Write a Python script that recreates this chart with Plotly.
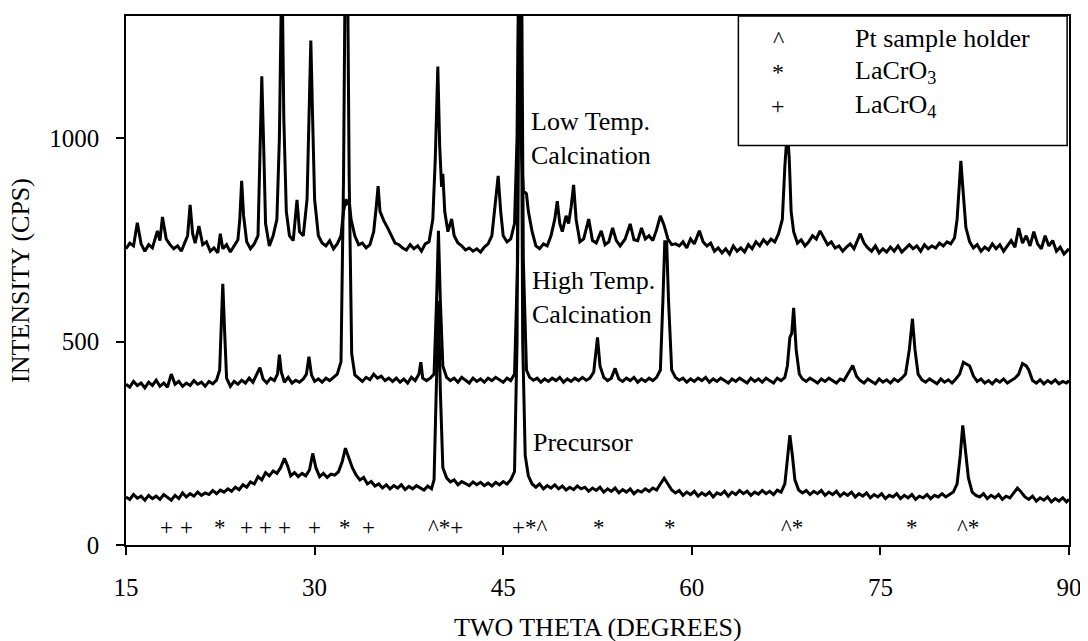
import plotly.graph_objects as go

# ---- XRD patterns (two theta in degrees, intensity in CPS) ----
low_x = [15.0, 15.3, 15.6, 15.9, 16.2, 16.5, 16.8, 17.1, 17.5, 17.7, 17.9, 18.2, 18.5, 18.8, 19.1, 19.4, 19.7, 19.9,
         20.1, 20.3, 20.5, 20.8, 21.1, 21.4, 21.7, 22.0, 22.3, 22.5, 22.7, 23.0, 23.3, 23.6, 23.9, 24.05, 24.2, 24.35,
         24.6, 24.9, 25.2, 25.5, 25.7, 25.8, 25.95, 26.1, 26.4, 26.7, 27.0, 27.2, 27.4, 27.55, 27.75, 28.0, 28.3, 28.6,
         28.8, 29.1, 29.4, 29.6, 29.7, 29.85, 30.0, 30.3, 30.6, 30.9, 31.2, 31.5, 31.8, 32.1, 32.3, 32.5, 32.6, 32.75,
         32.9, 33.2, 33.5, 33.8, 34.1, 34.4, 34.7, 34.9, 35.05, 35.2, 35.5, 35.8, 36.1, 36.4, 36.7, 37.0, 37.3, 37.6,
         37.9, 38.2, 38.5, 38.8, 39.1, 39.4, 39.6, 39.8, 39.95, 40.1, 40.2, 40.35, 40.6, 40.9, 41.1, 41.4, 41.7, 42.0,
         42.3, 42.6, 42.9, 43.2, 43.5, 43.8, 44.1, 44.4, 44.6, 44.8, 45.0, 45.3, 45.6, 45.9, 46.1, 46.25, 46.4, 46.6,
         46.85, 47.0, 47.3, 47.6, 47.9, 48.2, 48.5, 48.8, 49.1, 49.3, 49.5, 49.7, 50.0, 50.2, 50.4, 50.6, 50.8, 51.1,
         51.4, 51.8, 52.1, 52.4, 52.8, 53.1, 53.4, 53.7, 54.0, 54.3, 54.7, 55.1, 55.4, 55.7, 56.0, 56.3, 56.6, 56.9,
         57.2, 57.5, 57.8, 58.1, 58.4, 58.7, 59.0, 59.3, 59.6, 59.9, 60.2, 60.6, 60.9, 61.2, 61.5, 61.8, 62.1, 62.4,
         62.7, 63.0, 63.3, 63.6, 63.9, 64.2, 64.5, 64.8, 65.1, 65.4, 65.7, 66.0, 66.3, 66.6, 66.9, 67.2, 67.4, 67.6,
         67.75, 67.9, 68.1, 68.4, 68.7, 69.0, 69.3, 69.6, 69.9, 70.2, 70.5, 70.8, 71.1, 71.4, 71.7, 72.0, 72.3, 72.6,
         72.9, 73.2, 73.4, 73.7, 74.0, 74.3, 74.6, 74.9, 75.2, 75.5, 75.8, 76.1, 76.4, 76.7, 77.0, 77.3, 77.6, 77.9,
         78.2, 78.5, 78.8, 79.1, 79.4, 79.7, 80.0, 80.3, 80.6, 80.9, 81.1, 81.3, 81.4, 81.55, 81.8, 82.1, 82.4, 82.7,
         83.0, 83.3, 83.6, 83.9, 84.2, 84.5, 84.8, 85.1, 85.4, 85.7, 86.0, 86.3, 86.6, 86.9, 87.2, 87.5, 87.8, 88.1,
         88.4, 88.7, 89.0, 89.3, 89.6, 90.0]
low_y = [728, 742, 735, 792, 740, 722, 738, 730, 772, 748, 806, 752, 738, 728, 735, 722, 745, 760,
         836, 765, 742, 784, 738, 745, 722, 730, 718, 765, 728, 738, 720, 735, 750, 800, 895, 810,
         745, 728, 740, 760, 990, 1152, 980, 790, 735, 760, 800, 1000, 1450, 1050, 820, 760, 748, 848,
         770, 760, 850, 1100, 1240, 1040, 850, 760, 742, 735, 748, 728, 740, 760, 820, 850, 840, 845,
         800, 760, 738, 742, 730, 738, 770, 830, 882, 820, 797, 780, 760, 742, 738, 730, 725, 738,
         728, 735, 722, 740, 745, 800, 950, 1176, 980, 880, 912, 820, 770, 801, 760, 742, 735, 725,
         730, 722, 728, 720, 732, 740, 760, 840, 907, 820, 760, 745, 752, 790, 1000, 1500, 1000, 870,
         863, 820, 770, 735, 728, 740, 735, 760, 800, 845, 790, 770, 809, 790, 830, 885, 800, 745,
         752, 801, 748, 742, 772, 738, 745, 779, 748, 735, 752, 789, 750, 748, 779, 752, 760, 748,
         775, 809, 785, 752, 738, 740, 735, 745, 730, 752, 740, 772, 745, 735, 742, 722, 730, 718,
         728, 715, 735, 722, 730, 720, 738, 728, 745, 735, 750, 740, 752, 745, 765, 800, 930, 1020,
         950, 820, 770, 742, 750, 735, 745, 760, 752, 772, 755, 738, 745, 730, 735, 722, 732, 740,
         728, 748, 765, 742, 730, 722, 735, 718, 728, 720, 732, 722, 735, 720, 730, 738, 728, 735,
         722, 738, 728, 735, 730, 742, 735, 745, 740, 755, 800, 900, 944, 880, 780, 745, 730, 738,
         722, 732, 725, 740, 728, 738, 722, 735, 748, 732, 779, 742, 760, 735, 770, 740, 728, 760,
         735, 748, 722, 732, 715, 728]

high_x = [15.0, 15.3, 15.6, 15.9, 16.2, 16.5, 16.8, 17.1, 17.4, 17.7, 18.0, 18.3, 18.6, 18.9, 19.2, 19.5, 19.8, 20.1,
          20.4, 20.7, 21.0, 21.3, 21.6, 21.9, 22.2, 22.45, 22.6, 22.7, 22.85, 23.0, 23.3, 23.6, 23.9, 24.2, 24.5, 24.8,
          25.1, 25.4, 25.65, 25.9, 26.2, 26.5, 26.8, 27.05, 27.2, 27.35, 27.6, 27.9, 28.2, 28.5, 28.8, 29.1, 29.35,
          29.55, 29.75, 30.0, 30.3, 30.6, 30.9, 31.2, 31.5, 31.8, 32.1, 32.3, 32.45, 32.6, 32.75, 32.95, 33.2, 33.5,
          33.8, 34.1, 34.4, 34.7, 35.0, 35.3, 35.6, 35.9, 36.2, 36.5, 36.8, 37.1, 37.4, 37.7, 38.0, 38.3, 38.45, 38.6,
          38.9, 39.2, 39.5, 39.7, 39.85, 40.0, 40.2, 40.5, 40.8, 41.1, 41.4, 41.7, 42.0, 42.3, 42.6, 42.9, 43.2, 43.5,
          43.8, 44.1, 44.4, 44.7, 45.0, 45.3, 45.6, 45.9, 46.15, 46.3, 46.45, 46.6, 46.85, 47.1, 47.4, 47.7, 48.0,
          48.3, 48.6, 48.9, 49.2, 49.5, 49.8, 50.1, 50.4, 50.7, 51.0, 51.3, 51.6, 51.9, 52.2, 52.5, 52.7, 53.0, 53.3,
          53.6, 53.9, 54.2, 54.5, 54.8, 55.1, 55.4, 55.7, 56.0, 56.3, 56.6, 56.9, 57.2, 57.5, 57.7, 57.85, 58.0,
          58.15, 58.4, 58.7, 59.0, 59.3, 59.6, 59.9, 60.2, 60.5, 60.8, 61.1, 61.4, 61.7, 62.0, 62.3, 62.6, 62.9,
          63.2, 63.5, 63.8, 64.1, 64.4, 64.7, 65.0, 65.3, 65.6, 65.9, 66.2, 66.5, 66.8, 67.1, 67.4, 67.6, 67.8,
          67.95, 68.1, 68.3, 68.55, 68.8, 69.1, 69.4, 69.7, 70.0, 70.3, 70.6, 70.9, 71.2, 71.5, 71.8, 72.1, 72.5,
          72.8, 73.1, 73.4, 73.7, 74.0, 74.3, 74.6, 74.9, 75.2, 75.5, 75.8, 76.1, 76.4, 76.7, 77.0, 77.3, 77.55,
          77.75, 78.0, 78.3, 78.6, 78.9, 79.2, 79.5, 79.8, 80.1, 80.4, 80.7, 81.0, 81.3, 81.6, 81.85, 82.1, 82.4,
          82.7, 83.0, 83.3, 83.6, 83.9, 84.2, 84.5, 84.8, 85.1, 85.4, 85.7, 86.0, 86.3, 86.6, 86.8, 87.1, 87.4,
          87.7, 88.0, 88.3, 88.6, 88.9, 89.2, 89.5, 89.8, 90.0]
high_y = [395, 388, 402, 392, 398, 386, 400, 392, 405, 390, 398, 388, 420, 395, 402, 390, 398, 392,
          404, 395, 400, 390, 402, 396, 405, 430, 560, 642, 520, 410, 390, 402, 395, 405, 398, 410,
          400, 420, 436, 408, 398, 410, 404, 420, 468, 425, 400, 412, 398, 405, 400, 408, 420,
          463, 418, 402, 408, 400, 410, 404, 412, 420, 450, 900, 1500, 1500, 900, 470, 418, 410,
          402, 412, 406, 420, 410, 415, 404, 410, 402, 410, 400, 408, 398, 412, 404, 420, 449, 410,
          404, 410, 420, 600, 772, 600, 440, 412, 404, 410, 400, 412, 405, 398, 410, 402, 408, 400,
          410, 404, 412, 405, 400, 410, 404, 420, 700, 1500, 1500, 700, 430, 412, 405, 410, 400,
          408, 402, 410, 404, 412, 400, 408, 402, 410, 404, 412, 405, 410, 425, 510, 440, 412, 404,
          410, 434, 408, 402, 410, 404, 412, 400, 408, 402, 410, 404, 412, 430, 600, 745, 745,
          600, 430, 412, 405, 410, 400, 408, 402, 410, 404, 412, 400, 408, 402, 410, 404, 398,
          408, 402, 410, 404, 398, 410, 402, 408, 400, 410, 404, 398, 410, 404, 412, 440, 510,
          520, 583, 480, 420, 408, 402, 410, 404, 398, 408, 402, 410, 404, 398, 408, 404, 425,
          441, 415, 404, 398, 408, 402, 396, 408, 400, 406, 398, 408, 402, 410, 420, 480, 556,
          480, 420, 406, 400, 408, 402, 396, 408, 400, 406, 398, 408, 420, 449, 445, 440, 415,
          402, 408, 398, 404, 396, 406, 400, 408, 398, 404, 410, 420, 446, 440, 430, 404, 398,
          406, 396, 404, 398, 406, 396, 402, 398, 404]

pre_x = [15.0, 15.3, 15.6, 15.9, 16.2, 16.5, 16.8, 17.1, 17.4, 17.7, 18.0, 18.3, 18.6, 18.9, 19.2, 19.5, 19.8, 20.1,
         20.4, 20.7, 21.0, 21.3, 21.6, 21.9, 22.2, 22.5, 22.8, 23.1, 23.4, 23.7, 24.0, 24.3, 24.6, 24.9, 25.2, 25.5,
         25.8, 26.1, 26.4, 26.7, 27.0, 27.3, 27.6, 27.85, 28.1, 28.4, 28.7, 29.0, 29.3, 29.6, 29.85, 30.1, 30.4,
         30.7, 31.0, 31.3, 31.6, 31.9, 32.2, 32.45, 32.7, 33.0, 33.3, 33.6, 33.9, 34.2, 34.5, 34.8, 35.1, 35.4,
         35.7, 36.0, 36.3, 36.6, 36.9, 37.2, 37.5, 37.8, 38.1, 38.4, 38.7, 39.0, 39.3, 39.5, 39.7, 39.85, 40.0,
         40.2, 40.5, 40.8, 41.1, 41.4, 41.7, 42.0, 42.3, 42.6, 42.9, 43.2, 43.5, 43.8, 44.1, 44.4, 44.7, 45.0,
         45.3, 45.6, 45.9, 46.1, 46.25, 46.4, 46.55, 46.75, 47.0, 47.3, 47.6, 47.9, 48.2, 48.5, 48.8, 49.1, 49.4,
         49.7, 50.0, 50.3, 50.6, 50.9, 51.2, 51.5, 51.8, 52.1, 52.4, 52.7, 53.0, 53.3, 53.6, 53.9, 54.2, 54.5,
         54.8, 55.1, 55.4, 55.7, 56.0, 56.3, 56.6, 56.9, 57.2, 57.5, 57.8, 58.1, 58.4, 58.7, 59.0, 59.3, 59.6,
         59.9, 60.2, 60.5, 60.8, 61.1, 61.4, 61.7, 62.0, 62.3, 62.6, 62.9, 63.2, 63.5, 63.8, 64.1, 64.4, 64.7,
         65.0, 65.3, 65.6, 65.9, 66.2, 66.5, 66.8, 67.1, 67.4, 67.6, 67.8, 68.0, 68.2, 68.5, 68.8, 69.1, 69.4,
         69.7, 70.0, 70.3, 70.6, 70.9, 71.2, 71.5, 71.8, 72.1, 72.4, 72.7, 73.0, 73.3, 73.6, 73.9, 74.2, 74.5,
         74.8, 75.1, 75.4, 75.7, 76.0, 76.3, 76.6, 76.9, 77.2, 77.5, 77.8, 78.1, 78.4, 78.7, 79.0, 79.3, 79.6,
         79.9, 80.2, 80.5, 80.8, 81.1, 81.35, 81.55, 81.75, 82.0, 82.3, 82.6, 82.9, 83.2, 83.5, 83.8, 84.1, 84.4,
         84.7, 85.0, 85.3, 85.6, 85.9, 86.2, 86.5, 86.8, 87.1, 87.4, 87.7, 88.0, 88.3, 88.6, 88.9, 89.2, 89.5,
         89.8, 90.0]
pre_y = [118, 112, 124, 115, 120, 110, 122, 114, 120, 112, 124, 116, 110, 122, 114, 128, 118, 126,
         120, 130, 122, 128, 124, 134, 126, 135, 130, 138, 132, 142, 136, 148, 142, 155, 150, 168,
         160, 178, 170, 182, 176, 190, 213, 195, 170, 178, 168, 176, 170, 185, 225, 190, 168,
         176, 166, 174, 172, 180, 205, 238, 215, 190, 172, 160, 166, 150, 156, 145, 150, 140,
         148, 138, 146, 140, 148, 136, 144, 138, 146, 140, 135, 145, 138, 160, 400, 600, 380,
         190, 165, 155, 160, 148, 156, 150, 146, 155, 148, 154, 146, 152, 145, 154, 148, 156,
         150, 160, 180, 500, 1500, 1500, 500, 220, 170, 150, 142, 150, 138, 146, 140, 148, 138,
         145, 135, 142, 136, 145, 138, 142, 132, 140, 134, 142, 130, 138, 132, 140, 128, 136,
         130, 138, 126, 134, 130, 138, 132, 140, 135, 150, 164, 150, 135, 128, 134, 122, 130,
         124, 132, 120, 128, 122, 130, 118, 128, 124, 132, 120, 130, 124, 134, 126, 132, 122,
         130, 125, 134, 126, 132, 124, 135, 130, 150, 210, 270, 220, 160, 135, 128, 134, 124,
         132, 126, 134, 122, 130, 124, 132, 120, 128, 122, 130, 118, 126, 120, 128, 116, 124,
         118, 126, 114, 122, 118, 126, 114, 122, 116, 124, 112, 120, 116, 124, 114, 122, 118,
         126, 118, 124, 130, 150, 220, 294, 230, 165, 130, 122, 118, 126, 114, 122, 116, 124,
         112, 120, 116, 128, 140, 130, 118, 112, 120, 108, 116, 110, 118, 106, 114, 108, 116,
         106, 112]

# peak identification symbols along the bottom
sym_x = [18.2, 19.8, 22.5, 24.6, 26.1, 27.6, 30.0, 32.4, 34.3, 40.4, 47.1, 52.6, 58.3, 68.0, 77.5, 82.0]
sym_text = ["+", "+", "*", "+", "+", "+", "+", "*", "+", "^*+", "+*^", "*", "*", "^*", "*", "^*"]

x_ticks = [15, 30, 45, 60, 75, 90]
y_ticks = [0, 500, 1000]

FONT = "Liberation Serif, Times New Roman, serif"

fig = go.Figure()
for xs, ys in [(low_x, low_y), (high_x, high_y), (pre_x, pre_y)]:
    fig.add_trace(go.Scatter(x=xs, y=ys, mode="lines",
                             line=dict(color="black", width=3), showlegend=False))

for sx, st in zip(sym_x, sym_text):
    fig.add_annotation(x=sx, y=42, text=st, showarrow=False, xanchor="center",
                       yanchor="middle", font=dict(size=23))

# trace labels
fig.add_annotation(x=47.07, y=1000, text="Low Temp.<br>Calcination", xanchor="left",
                   align="left", showarrow=False, font=dict(size=26))
fig.add_annotation(x=47.15, y=608, text="High Temp.<br>Calcination", xanchor="left",
                   align="left", showarrow=False, font=dict(size=26))
fig.add_annotation(x=47.2, y=252, text="Precursor", xanchor="left", showarrow=False,
                   font=dict(size=26))

# legend box (drawn by hand like the original)
fig.add_shape(type="rect", xref="paper", yref="paper", x0=0.6494, x1=0.998, y0=0.7552, y1=1.0,
              line=dict(color="black", width=1.5), fillcolor="white", layer="above")
leg_sym = ["^", "*", "+"]
leg_lab = ["Pt sample holder", "LaCrO<sub>3</sub>", "LaCrO<sub>4</sub>"]
leg_y = [0.9567, 0.8945, 0.8305]
for s, lab, yy in zip(leg_sym, leg_lab, leg_y):
    fig.add_annotation(xref="paper", yref="paper", x=0.6917, y=yy, text=s, showarrow=False,
                       xanchor="center", yanchor="middle", font=dict(size=24))
    fig.add_annotation(xref="paper", yref="paper", x=0.771, y=yy, text=lab, showarrow=False,
                       xanchor="left", yanchor="middle", font=dict(size=26))

# axis titles
fig.add_annotation(xref="paper", yref="paper", x=0.5, y=-0.156, text="TWO THETA (DEGREES)",
                   showarrow=False, xanchor="center", yanchor="middle", font=dict(size=26))
fig.add_annotation(xref="paper", yref="paper", x=-0.112, y=0.5, text="INTENSITY (CPS)",
                   textangle=-90, showarrow=False, xanchor="center", yanchor="middle",
                   font=dict(size=26))

# the page body has an 8px margin, so the figure is a little smaller and shifted
fig.update_layout(
    width=1080, height=633,
    margin=dict(l=118, r=15, t=6, b=96),
    plot_bgcolor="white", paper_bgcolor="white",
    font=dict(family=FONT, size=25, color="black"),
    xaxis=dict(range=[15, 90], tickvals=x_ticks, ticks="outside", ticklen=8, tickwidth=1.5,
               tickcolor="black", showline=True, linecolor="black", linewidth=1.5, mirror=True,
               showgrid=False, zeroline=False, ticklabelstandoff=11),
    yaxis=dict(range=[0, 1300], tickvals=y_ticks, ticks="outside", ticklen=8, tickwidth=1.5,
               tickcolor="black", showline=True, linecolor="black", linewidth=1.5, mirror=True,
               showgrid=False, zeroline=False, ticklabelstandoff=12),
)

fig.write_html("out.html")
